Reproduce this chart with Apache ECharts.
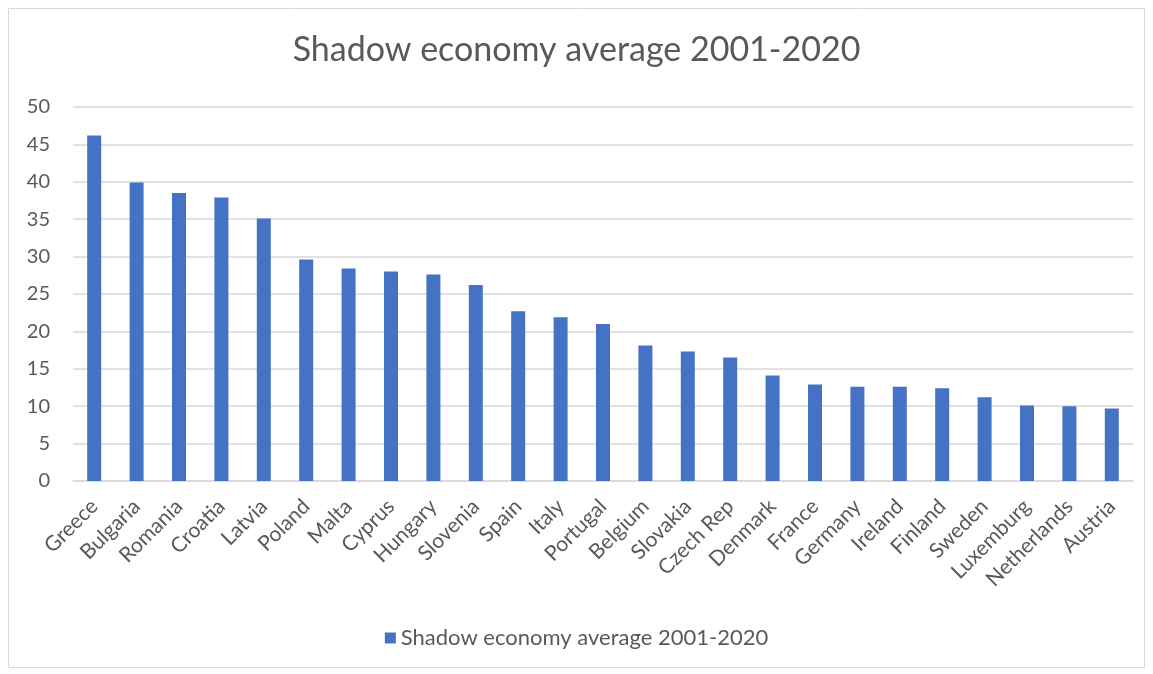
<!DOCTYPE html>
<html>
<head>
<meta charset="utf-8">
<script src="https://cdn.jsdelivr.net/npm/echarts@6/dist/echarts.min.js"></script>
<style>
  html, body { margin: 0; padding: 0; background: #fff; }
  #chart { width: 1153px; height: 674px; }
</style>
</head>
<body>
<div id="chart"></div>
<script>
var countries = ['Greece', 'Bulgaria', 'Romania', 'Croatia', 'Latvia', 'Poland', 'Malta', 'Cyprus',
  'Hungary', 'Slovenia', 'Spain', 'Italy', 'Portugal', 'Belgium', 'Slovakia', 'Czech Rep',
  'Denmark', 'France', 'Germany', 'Ireland', 'Finland', 'Sweden', 'Luxemburg', 'Netherlands', 'Austria'];
var shadowAvg = [46.2, 39.9, 38.5, 37.9, 35.1, 29.6, 28.4, 28.0, 27.6, 26.2, 22.7, 21.9, 21.0,
  18.1, 17.3, 16.5, 14.1, 12.9, 12.6, 12.6, 12.4, 11.2, 10.1, 10.0, 9.7];
var seriesName = 'Shadow economy average 2001-2020';
var yTicks = [0, 5, 10, 15, 20, 25, 30, 35, 40, 45, 50];

(function() {
  var ink = '#595959';
  var font = 'Lato, "Open Sans", sans-serif';
  var chart = echarts.init(document.getElementById('chart'), null, { renderer: 'canvas' });

  chart.setOption({
    animation: false,
    textStyle: { fontFamily: font },
    graphic: [{
      type: 'rect',
      shape: { x: 8.5, y: 8.5, width: 1136, height: 659 },
      style: { fill: 'none', stroke: '#d9d9d9', lineWidth: 1 },
      silent: true
    }],
    title: {
      text: seriesName,
      left: 'center',
      top: 28,
      textStyle: { color: ink, fontSize: 34, fontWeight: 'normal', fontFamily: font }
    },
    legend: {
      data: [seriesName],
      bottom: 20,
      left: 'center',
      icon: 'rect',
      itemWidth: 11,
      itemHeight: 11,
      itemGap: 6,
      textStyle: { color: ink, fontSize: 22, fontFamily: font }
    },
    grid: { left: 73, right: 20, top: 107, bottom: 193 },
    xAxis: {
      type: 'category',
      data: countries,
      axisLine: { lineStyle: { color: '#d9d9d9', width: 1.5 } },
      axisTick: { show: false },
      axisLabel: { color: ink, fontSize: 21, rotate: 45, interval: 0, margin: 22, fontFamily: font }
    },
    yAxis: {
      type: 'value',
      min: yTicks[0],
      max: yTicks[yTicks.length - 1],
      interval: 5,
      axisLine: { show: false },
      axisTick: { show: false },
      axisLabel: { color: ink, fontSize: 20, margin: 23, fontFamily: font },
      splitLine: { lineStyle: { color: '#d9d9d9', width: 1.5 } }
    },
    series: [{
      name: seriesName,
      type: 'bar',
      data: shadowAvg,
      barWidth: 14,
      itemStyle: { color: '#4472C4' }
    }]
  });

  window.addEventListener('resize', function() { chart.resize(); });
})();
</script>
</body>
</html>
